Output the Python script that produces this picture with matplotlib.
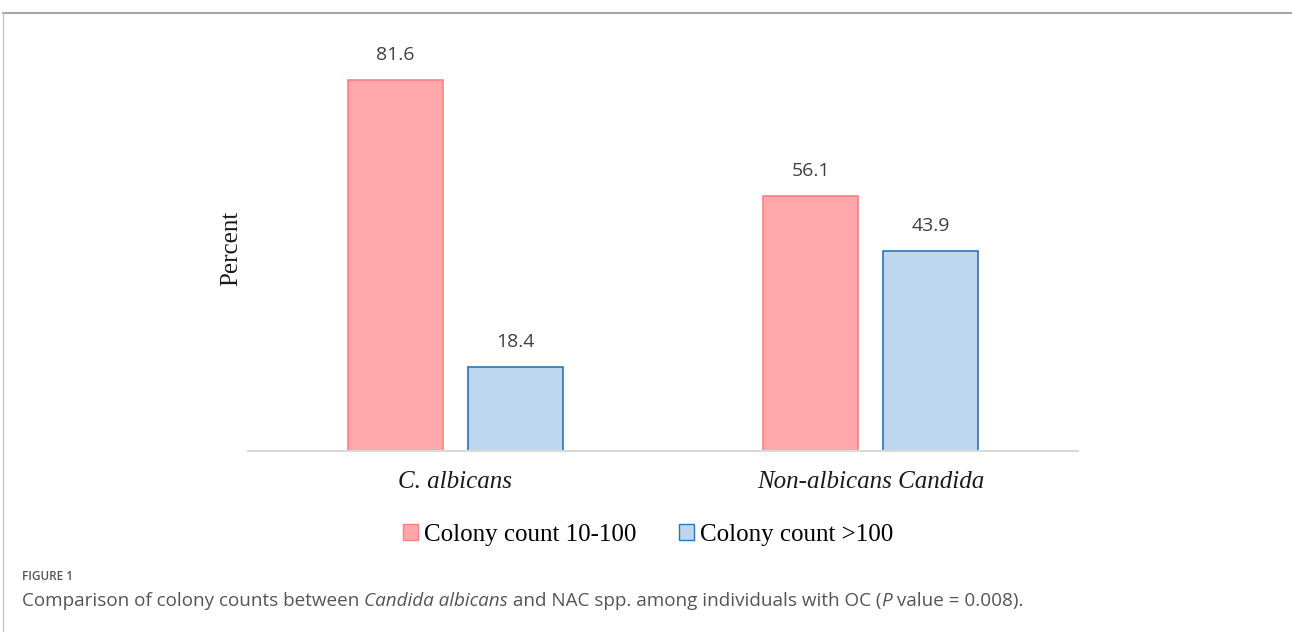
import matplotlib.pyplot as plt
from matplotlib.lines import Line2D
from matplotlib.patches import Patch

categories = ['C. albicans', 'Non-albicans Candida']
low_count = [81.6, 56.1]    # Colony count 10-100
high_count = [18.4, 43.9]   # Colony count >100
series_labels = ['Colony count 10-100', 'Colony count >100']

W, H = 1292, 632
fig = plt.figure(figsize=(W / 100, H / 100), dpi=100)

# outer frame (top + left rule)
fig.add_artist(Line2D([3 / W, 1], [1 - 13 / H, 1 - 13 / H], color='#a6a6a6', lw=1.5))
fig.add_artist(Line2D([3 / W, 3 / W], [0, 1 - 13 / H], color='#c8c8c8', lw=1))

ax = fig.add_axes([248 / W, 181 / H, 830 / W, 409 / H])

bw = 0.229
off = bw / 2 + 0.03
x = [0, 1]
b1 = ax.bar([i - off for i in x], low_count, bw, color='#ffa7ab', edgecolor='#ff7f84', lw=1.2)
b2 = ax.bar([i + off for i in x], high_count, bw, color='#bdd7ee', edgecolor='#2e75b6', lw=1.2)

for bars in (b1, b2):
    for r in bars:
        ax.annotate(f'{r.get_height():.1f}', (r.get_x() + r.get_width() / 2, r.get_height()),
                    xytext=(0, 18), textcoords='offset points', ha='center', va='center',
                    fontsize=14, color='#404040', family='Open Sans')

ax.set_xlim(-0.5, 1.5)
ax.set_ylim(0, 90)
ax.set_xticks(x)
ax.set_xticklabels(categories, fontsize=18, style='italic', family='Liberation Serif', color='#1a1a1a')
ax.tick_params(axis='x', length=0, pad=14.5)
ax.set_yticks([])
for s in ['top', 'right', 'left']:
    ax.spines[s].set_visible(False)
ax.spines['bottom'].set_color('#d9d9d9')
ax.spines['bottom'].set_linewidth(1.5)

fig.text(231 / W, 1 - 248 / H, 'Percent', rotation=90, ha='center', va='center',
         fontsize=18, family='Liberation Serif', color='#1a1a1a')

handles = [Patch(facecolor='#ffa7ab', edgecolor='#ff7f84'),
           Patch(facecolor='#bdd7ee', edgecolor='#2e75b6')]
fig.legend(handles, series_labels, loc='center', bbox_to_anchor=(648 / W, 1 - 535 / H), ncol=2,
           frameon=False, handlelength=0.6, handleheight=0.6, handletextpad=0.25, columnspacing=1.7,
           prop={'family': 'Liberation Serif', 'size': 18})

fig.text(22 / W, 1 - 576 / H, 'FIGURE 1', fontsize=8.5, color='#555555', family='Open Sans',
         va='center', weight='semibold')

# caption with italic pieces
pieces = [('Comparison of colony counts between ', 'normal'), ('Candida albicans', 'italic'),
          (' and NAC spp. among individuals with OC (', 'normal'), ('P', 'italic'),
          (' value = 0.008).', 'normal')]
fig.canvas.draw()
r = fig.canvas.get_renderer()
xpos = 22 / W
for txt, st in pieces:
    t = fig.text(xpos, 1 - 601 / H, txt, fontsize=13.6, color='#555555', family='Open Sans',
                 style=st, va='center')
    bb = t.get_window_extent(renderer=r)
    xpos += bb.width / W

fig.savefig('out.png', dpi=100)
